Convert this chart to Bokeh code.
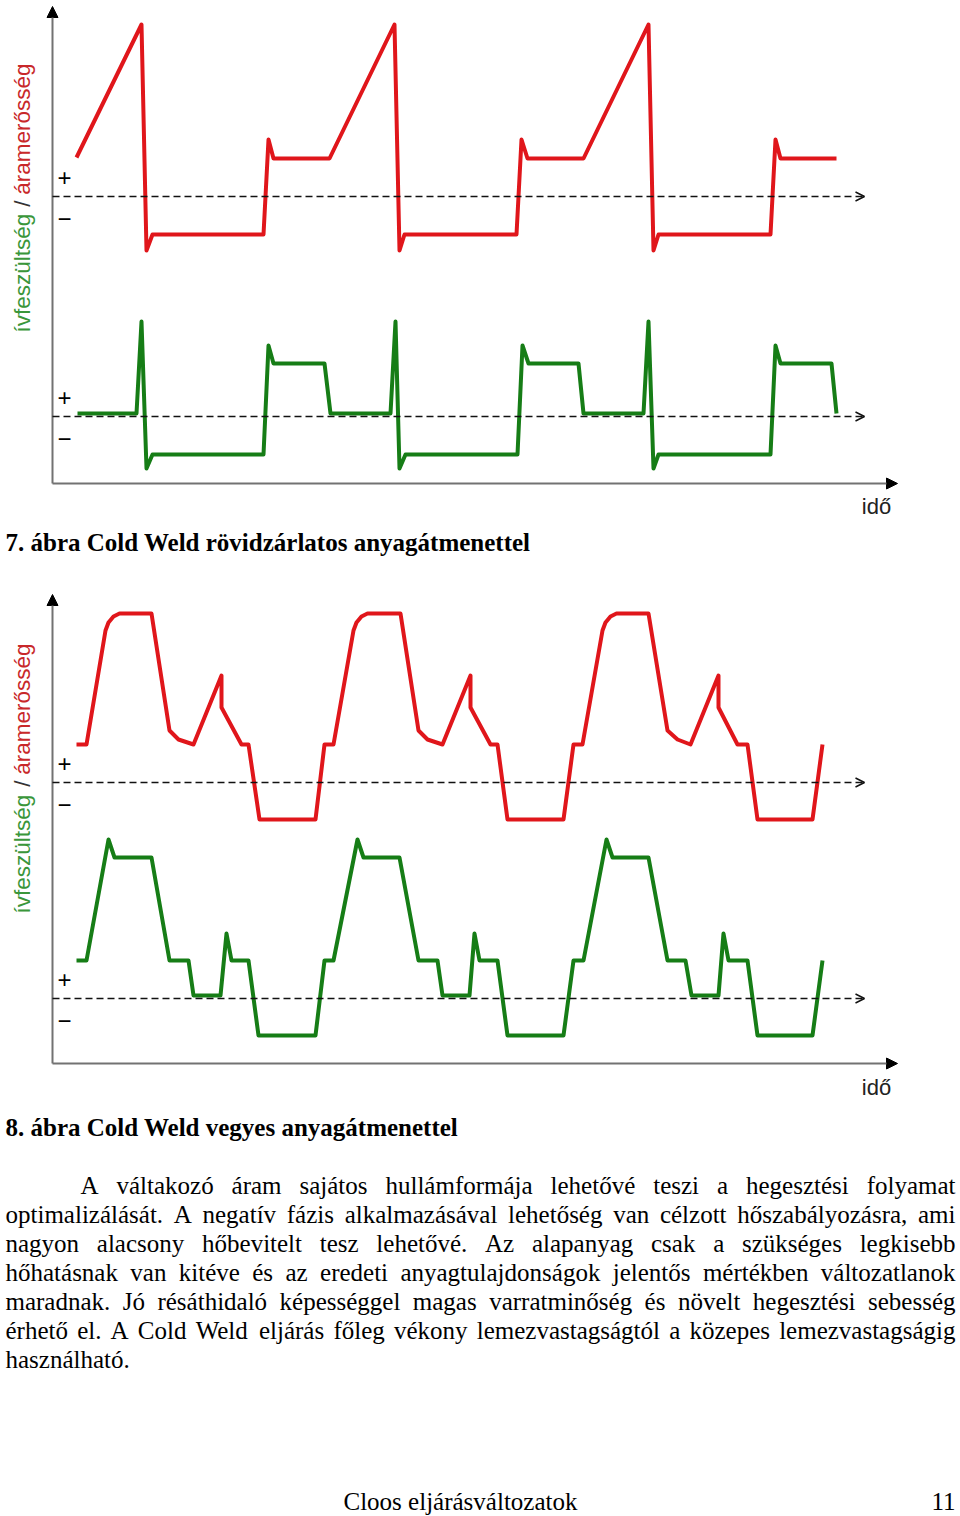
import math
from bokeh.plotting import figure
from bokeh.models import Range1d, Arrow, NormalHead, OpenHead, ColumnDataSource
from bokeh.core.properties import value
from bokeh.embed import file_html
from bokeh.resources import INLINE

# ---------------- DATA (time from the vertical axis, amplitude above the dashed zero line) -------------
# Figure 7: Cold Weld with short-circuit transfer
fig7_current_t = [24, 89, 94, 100, 211, 216, 221, 277, 342, 347, 352, 464, 469, 475, 531, 596, 601, 606, 718, 723, 728, 784]
fig7_current_v = [39, 172, -54, -38, -38, 57, 38, 38, 172, -54, -38, -38, 57, 38, 38, 172, -54, -38, -38, 57, 38, 38]
fig7_voltage_t = [25, 84, 89, 94, 100, 211, 216, 221, 272, 278, 338, 343, 347, 353, 465, 470, 476, 526, 531,
                  591, 596, 601, 606, 718, 723, 728, 779, 784]
fig7_voltage_v = [3, 3, 95, -52, -38, -38, 71, 53, 53, 3, 3, 95, -52, -38, -38, 71, 53, 53, 3,
                  3, 95, -52, -38, -38, 71, 53, 53, 3]

# Figure 8: Cold Weld with mixed transfer
fig8_current_t = [24, 34, 53, 56, 61, 67, 99, 117, 126, 141, 169, 169, 189, 196, 207, 263,
                  272, 281, 301, 304, 309, 315, 348, 366, 375, 390, 418, 418, 438, 445, 455, 511,
                  521, 530, 550, 553, 558, 564, 596, 615, 625, 638, 666, 666, 685, 695, 705, 760, 770]
fig8_current_v = [38, 38, 152, 160, 166, 169, 169, 52, 43, 38, 107, 75, 38, 38, -37, -37,
                  38, 38, 152, 160, 166, 169, 169, 52, 43, 38, 107, 75, 38, 38, -37, -37,
                  38, 38, 152, 160, 166, 169, 169, 52, 43, 38, 107, 75, 38, 38, -37, -37, 38]
fig8_voltage_t = [24, 34, 56, 62, 99, 117, 136, 141, 168, 174, 179, 196, 206, 263,
                  272, 281, 305, 311, 347, 366, 385, 390, 417, 422, 427, 445, 455, 511,
                  521, 531, 554, 560, 596, 615, 633, 639, 666, 671, 676, 695, 705, 760, 770]
fig8_voltage_v = [38, 38, 159, 141, 141, 38, 38, 3, 3, 65, 38, 38, -37, -37,
                  38, 38, 159, 141, 141, 38, 38, 3, 3, 65, 38, 38, -37, -37,
                  38, 38, 159, 141, 141, 38, 38, 3, 3, 65, 38, 38, -37, -37, 38]

# ---------------- TEXT ----------------
label_voltage = "ívfeszültség"
label_sep = "/"
label_current = "áramerősség"
label_time = "idő"
caption7 = "7. ábra Cold Weld rövidzárlatos anyagátmenettel"
caption8 = "8. ábra Cold Weld vegyes anyagátmenettel"
paragraph = [
    "A váltakozó áram sajátos hullámformája lehetővé teszi a hegesztési folyamat",
    "optimalizálását. A negatív fázis alkalmazásával lehetőség van célzott hőszabályozásra, ami",
    "nagyon alacsony hőbevitelt tesz lehetővé. Az alapanyag csak a szükséges legkisebb",
    "hőhatásnak van kitéve és az eredeti anyagtulajdonságok jelentős mértékben változatlanok",
    "maradnak. Jó résáthidaló képességgel magas varratminőség és növelt hegesztési sebesség",
    "érhető el. A Cold Weld eljárás főleg vékony lemezvastagságtól a közepes lemezvastagságig",
    "használható.",
]
footer_left = "Cloos eljárásváltozatok"
footer_right = "11"

# ---------------- STYLE / LAYOUT ----------------
W, H = 960, 1516
RED = "#e0161b"
GREEN = "#167d16"
RED_TXT = "#c8282a"
GREEN_TXT = "#3a963a"
AXIS = "#727272"
SANS = value("Liberation Sans")
SERIF = value("Liberation Serif")
X0 = 52

p = figure(width=W, height=H, x_range=Range1d(0, W), y_range=Range1d(H, 0),
           output_backend="svg", toolbar_location=None, min_border=0,
           x_axis_type=None, y_axis_type=None)
p.grid.visible = False
p.outline_line_color = None
p.background_fill_color = "white"
p.border_fill_color = "white"


def diagram(ax_bottom, ax_top, base_cur, base_vol, cur_t, cur_v, vol_t, vol_v, label_top, label_bottom, time_y):
    # axes with arrows
    p.add_layout(Arrow(end=NormalHead(size=11, fill_color="black", line_color="black"),
                       x_start=X0, y_start=ax_bottom, x_end=X0, y_end=ax_top,
                       line_color=AXIS, line_width=2))
    p.add_layout(Arrow(end=NormalHead(size=11, fill_color="black", line_color="black"),
                       x_start=X0, y_start=ax_bottom, x_end=897, y_end=ax_bottom,
                       line_color=AXIS, line_width=2))
    # dashed zero lines
    for b in (base_cur, base_vol):
        p.add_layout(Arrow(end=OpenHead(size=9, line_width=1.5, line_color="#111111"),
                           x_start=X0, y_start=b, x_end=864, y_end=b,
                           line_color="#111111", line_width=1.5, line_dash="7 4"))
        p.text(x=[64], y=[b - 19], text=["+"], text_font=SANS, text_font_size="24px",
               text_align="center", text_baseline="middle", text_color="black")
        p.text(x=[64], y=[b + 22], text=["\u2212"], text_font=SANS, text_font_size="24px",
               text_align="center", text_baseline="middle", text_color="black")
    # waveforms
    p.line([X0 + t for t in cur_t], [base_cur - v for v in cur_v], line_color=RED, line_width=4,
           line_join="round")
    p.line([X0 + t for t in vol_t], [base_vol - v for v in vol_v], line_color=GREEN, line_width=4,
           line_join="round")
    # rotated y label
    p.text(x=[22], y=[label_bottom], text=[label_voltage], angle=math.pi / 2, text_font=SANS,
           text_font_size="22.5px", text_align="left", text_baseline="middle", text_color=GREEN_TXT)
    p.text(x=[22], y=[label_top + 140], text=[label_sep], angle=math.pi / 2,
           text_font=SANS, text_font_size="22.5px", text_align="center", text_baseline="middle",
           text_color="#333333")
    p.text(x=[22], y=[label_top], text=[label_current], angle=math.pi / 2, text_font=SANS,
           text_font_size="22.5px", text_align="right", text_baseline="middle", text_color=RED_TXT)
    p.text(x=[876], y=[time_y], text=[label_time], text_font=SANS, text_font_size="22px",
           text_align="center", text_baseline="middle", text_color="#222222")


diagram(483, 6, 196, 416, fig7_current_t, fig7_current_v, fig7_voltage_t, fig7_voltage_v, 63, 332, 506)
diagram(1063, 594, 782, 998, fig8_current_t, fig8_current_v, fig8_voltage_t, fig8_voltage_v, 643, 913, 1087)

# captions
p.text(x=[5, 5], y=[542, 1127], text=[caption7, caption8], text_font=SERIF, text_font_style="bold",
       text_font_size="25px", text_align="left", text_baseline="middle", text_color="black")

# justified paragraph (Times / Liberation Serif metrics)
TW = dict(a=444, b=500, c=444, d=500, e=444, f=333, g=500, h=500, i=278, j=278, k=500, l=278, m=778,
          n=500, o=500, p=500, q=500, r=333, s=389, t=278, u=500, v=500, w=722, x=500, y=500, z=444,
          A=722, B=667, C=667, D=722, E=611, F=556, G=722, H=722, I=333, J=389, K=722, L=611, M=889,
          N=722, O=722, P=556, Q=722, R=667, S=556, T=611, U=722, V=722, W=944, X=722, Y=722, Z=611)
TW.update({".": 250, ",": 250, " ": 250})
ACC = {"á": "a", "é": "e", "í": "i", "ó": "o", "ö": "o", "ő": "o", "ú": "u", "ü": "u", "ű": "u",
       "Á": "A", "É": "E", "Ó": "O", "Ö": "O"}


def text_width(s, size):
    return sum(TW.get(ACC.get(c, c), 500) for c in s) * size / 1000.0


FS = 25
words_x, words_y, words_t = [], [], []
left, right = 5, 955
for i, line in enumerate(paragraph):
    y = 1185 + 29 * i
    ws = line.split()
    start = 80 if i == 0 else left
    if i == len(paragraph) - 1 or len(ws) == 1:
        gap = text_width(" ", FS)
    else:
        gap = (right - start - sum(text_width(w, FS) for w in ws)) / (len(ws) - 1)
    x = start
    for w in ws:
        words_x.append(x)
        words_y.append(y)
        words_t.append(w)
        x += text_width(w, FS) + gap

p.text(x="x", y="y", text="t", source=ColumnDataSource(dict(x=words_x, y=words_y, t=words_t)),
       text_font=SERIF, text_font_size="25px", text_align="left", text_baseline="middle",
       text_color="black")

# footer
p.text(x=[343], y=[1501], text=[footer_left], text_font=SERIF, text_font_size="25px",
       text_align="left", text_baseline="middle", text_color="black")
p.text(x=[955], y=[1501], text=[footer_right], text_font=SERIF, text_font_size="25px",
       text_align="right", text_baseline="middle", text_color="black")

open("out.html", "w").write(file_html(p, INLINE))
